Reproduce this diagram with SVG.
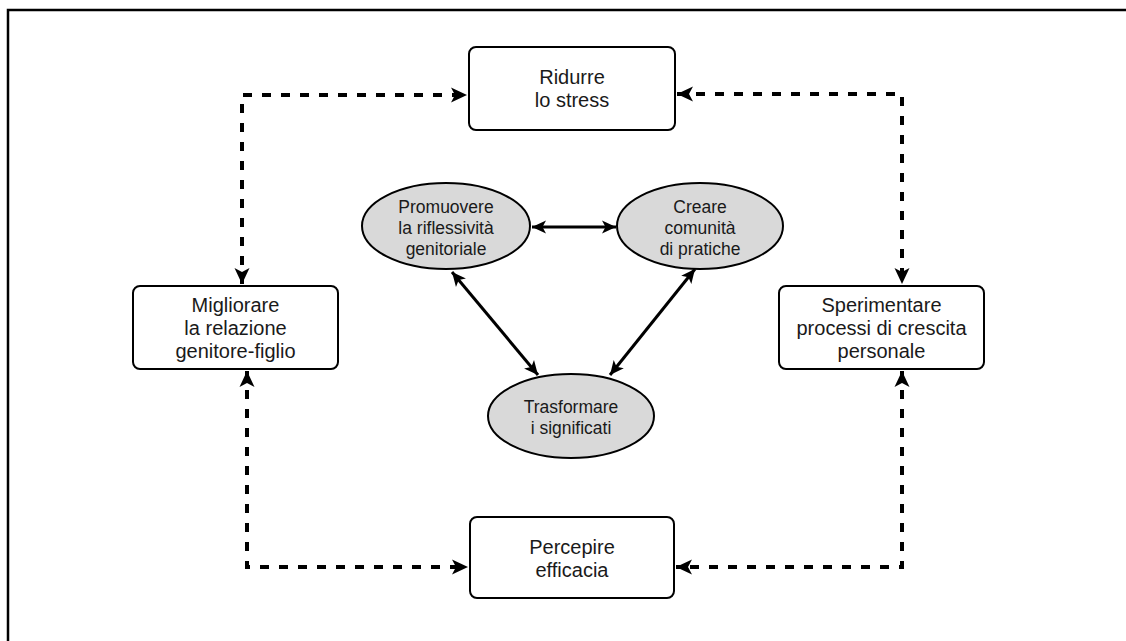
<svg xmlns="http://www.w3.org/2000/svg" width="1126" height="641" viewBox="0 0 1126 641">
<style>
.box{fill:#fff;stroke:#000;stroke-width:2}
.ell{fill:#d9d9d9;stroke:#000;stroke-width:2}
.t{font-family:"Liberation Sans",Arial,Helvetica,sans-serif;font-size:20px;fill:#1a1a1a;text-anchor:middle}
.te{font-family:"Liberation Sans",Arial,Helvetica,sans-serif;font-size:17.5px;fill:#1a1a1a;text-anchor:middle}
.dash{fill:none;stroke:#000;stroke-width:4;stroke-dasharray:9 10;marker-start:url(#ah);marker-end:url(#ah)}
.solid{fill:none;stroke:#000;stroke-width:3;marker-start:url(#as);marker-end:url(#as)}
</style>
<defs>
<marker id="ah" markerUnits="userSpaceOnUse" markerWidth="18" markerHeight="18" viewBox="0 0 18 18" refX="17" refY="9" orient="auto-start-reverse">
<path d="M1,1.5 L17,9 L1,16.5 L5,9 Z" fill="#000"/>
</marker>
<marker id="as" markerUnits="userSpaceOnUse" markerWidth="16" markerHeight="16" viewBox="0 0 16 16" refX="15" refY="8" orient="auto-start-reverse">
<path d="M1,1.5 L15,8 L1,14.5 L4.5,8 Z" fill="#000"/>
</marker>
</defs>
<g id="frame">
<path d="M1126,10 L8,10 L8,641" fill="none" stroke="#000" stroke-width="2.5"/>
</g>
<g id="connectors">
<path class="dash" d="M242,284 L242,95 L467,95"/>
<path class="dash" d="M677,94 L902,94 L902,284"/>
<path class="dash" d="M247,371 L247,567 L468,567"/>
<path class="dash" d="M902,371 L902,567 L676,567"/>
<path class="solid" d="M532,227 L616,227"/>
<path class="solid" d="M452,272 L538,375"/>
<path class="solid" d="M695,269 L610,375"/>
</g>
<g id="n-ridurre">
<rect class="box" x="469" y="47" width="206" height="83" rx="7"/>
<text class="t" x="572" y="84">Ridurre</text>
<text class="t" x="572" y="107">lo stress</text>
</g>
<g id="n-migliorare">
<rect class="box" x="133" y="286" width="205" height="83" rx="7"/>
<text class="t" x="235.5" y="312">Migliorare</text>
<text class="t" x="235.5" y="335">la relazione</text>
<text class="t" x="235.5" y="358">genitore-figlio</text>
</g>
<g id="n-sperimentare">
<rect class="box" x="779" y="286" width="205" height="83" rx="7"/>
<text class="t" x="881.5" y="312">Sperimentare</text>
<text class="t" x="881.5" y="335">processi di crescita</text>
<text class="t" x="881.5" y="358">personale</text>
</g>
<g id="n-percepire">
<rect class="box" x="470" y="517" width="204" height="81" rx="7"/>
<text class="t" x="572" y="554">Percepire</text>
<text class="t" x="572" y="577">efficacia</text>
</g>
<g id="n-promuovere">
<ellipse class="ell" cx="446" cy="226" rx="84" ry="43"/>
<text class="te" x="446" y="213">Promuovere</text>
<text class="te" x="446" y="234">la riflessività</text>
<text class="te" x="446" y="255">genitoriale</text>
</g>
<g id="n-creare">
<ellipse class="ell" cx="700" cy="226" rx="83" ry="43"/>
<text class="te" x="700" y="213">Creare</text>
<text class="te" x="700" y="234">comunità</text>
<text class="te" x="700" y="255">di pratiche</text>
</g>
<g id="n-trasformare">
<ellipse class="ell" cx="571" cy="416" rx="83" ry="42"/>
<text class="te" x="571" y="413">Trasformare</text>
<text class="te" x="571" y="434">i significati</text>
</g>
</svg>
